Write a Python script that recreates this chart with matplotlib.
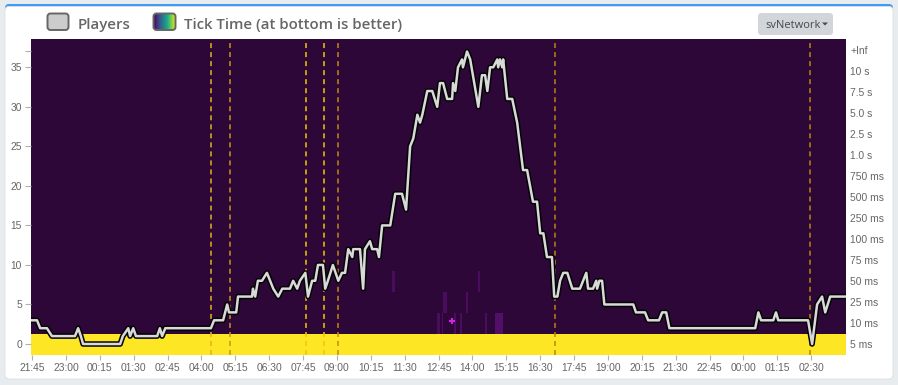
import matplotlib
matplotlib.use("Agg")
import matplotlib.pyplot as plt
import numpy as np
from matplotlib.patches import FancyBboxPatch, Polygon
from matplotlib.colors import ListedColormap, BoundaryNorm
import matplotlib.patheffects as pe

# ---------------- data ----------------
# minutes since 21:45 (first day)
player_minutes = [-3, 11, 18, 33, 44, 95, 102, 108, 113, 195, 201, 213, 217, 224, 230, 277, 283, 288,
                  295, 396, 403, 423, 432, 436, 452, 456, 487, 489, 494, 500, 509, 520, 527, 534, 545,
                  554, 571, 578, 587, 593, 605, 611, 620, 627, 633, 644, 649, 655, 666, 678, 686, 693,
                  700, 709, 711, 726, 733, 737, 748, 753, 764, 768, 775, 793, 804, 819, 828, 837, 844,
                  853, 859, 864, 875, 886, 897, 903, 910, 919, 930, 932, 937, 943, 952, 954, 963, 970,
                  976, 988, 996, 1003, 1008, 1014, 1021, 1030, 1032, 1036, 1041, 1043, 1052, 1063,
                  1074, 1087, 1096, 1109, 1118, 1125, 1132, 1140, 1151, 1156, 1163, 1169, 1176, 1185,
                  1196, 1213, 1227, 1231, 1242, 1249, 1251, 1256, 1262, 1267, 1331, 1337, 1357, 1364,
                  1388, 1395, 1404, 1411, 1601, 1608, 1614, 1641, 1647, 1652, 1718, 1727, 1738, 1749,
                  1756, 1767, 1802]
player_counts = [3, 3, 2, 2, 1, 1, 2, 1, 0, 0, 1, 2, 1, 2, 1, 1, 2, 1,
                 2, 2, 3, 3, 5, 4, 4, 6, 6, 7, 6, 8, 8, 9, 8, 7, 6,
                 7, 7, 8, 7, 8, 9, 6, 8, 8, 10, 10, 7, 8, 10, 8, 9, 9,
                 12, 11, 12, 12, 7, 12, 13, 12, 12, 11, 15, 15, 19, 19, 17, 25, 26,
                 29, 28, 29, 32, 32, 30, 33, 33, 31, 31, 33, 32, 35, 36, 35, 37, 36,
                 34, 30, 34, 34, 32, 35, 35, 36, 35, 36, 35, 36, 31, 31,
                 28, 22, 22, 18, 18, 14, 14, 11, 11, 6, 6, 8, 9, 9,
                 7, 7, 9, 7, 7, 8, 7, 8, 8, 5, 5, 4, 4, 3,
                 3, 4, 4, 2, 2, 4, 3, 3, 4, 3, 3, 0, 5, 6,
                 4, 6, 6]

x_tick_labels = ["21:45", "23:00", "00:15", "01:30", "02:45", "04:00", "05:15", "06:30",
                 "07:45", "09:00", "10:15", "11:30", "12:45", "14:00", "15:15", "16:30",
                 "17:45", "19:00", "20:15", "21:30", "22:45", "00:00", "01:15", "02:30"]

tick_time_buckets = ["5 ms", "10 ms", "25 ms", "50 ms", "75 ms", "100 ms", "250 ms", "500 ms",
                     "750 ms", "1.0 s", "2.5 s", "5.0 s", "7.5 s", "10 s", "+Inf"]

# highlighted heatmap cells: start minute, end minute, bucket row, level
cell_start = [797, 897, 907, 910, 935, 948, 961, 988, 1003, 1025]
cell_end = [804, 903, 910, 919, 939, 952, 965, 992, 1008, 1043]
cell_row = [3, 1, 1, 2, 1, 1, 2, 3, 1, 1]
cell_level = [1, 1, 1, 1, 1, 1, 1, 1, 1, 2]

event_minutes = [396, 438, 607, 647, 678, 1158, 1723]
event_colors = ["#e2b21c", "#c7961a", "#f2c800", "#f2c800", "#c28c10", "#b8860b", "#b8860b"]

marker_minute = [930]
marker_value = [2.95]

# ---------------- figure ----------------
W, H = 898, 385
plt.rcParams["lines.scale_dashes"] = False
fig = plt.figure(figsize=(W / 100, H / 100), dpi=100)
fig.patch.set_facecolor("#e9ecef")
T = fig.dpi_scale_trans


def box(x0, y0, x1, y1, r, z=2, **kw):
    p = FancyBboxPatch(((x0) / 100, (H - y1) / 100), (x1 - x0) / 100, (y1 - y0) / 100,
                       boxstyle="round,pad=0,rounding_size=%f" % (r / 100), transform=T,
                       zorder=z, **kw)
    fig.add_artist(p)
    return p


# card with blue top border
box(5, 4, 893, 379, 4, z=-10, fc="#3d9cf2", ec="none")
box(5, 6.5, 893, 379, 4, z=-9, fc="white", ec="#dde0e3", lw=0.6)

# legend
box(47.5, 13.5, 68.5, 30, 3, fc="#cccccc", ec="#666666", lw=1.4)
fig.text(78 / W, 1 - 29 / H, "Players", fontsize=10.8, color="#666666", weight="semibold",
         family="Open Sans", va="baseline", ha="left")
ax_sw = fig.add_axes([153.5 / W, 1 - 30 / H, 22 / W, 16.5 / H])
ax_sw.imshow(np.linspace(0, 1, 64)[None, :], aspect="auto", cmap="viridis", extent=[0, 1, 0, 1])
ax_sw.axis("off")
box(153.5, 13.5, 175.5, 30, 3, fc="none", ec="#666666", lw=1.4)
fig.text(184 / W, 1 - 29 / H, "Tick Time (at bottom is better)", fontsize=10.8, color="#666666",
         weight="semibold", family="Open Sans", va="baseline", ha="left")

# dropdown button
box(758, 13, 833, 35, 3.5, fc="#d2d5da", ec="none")
fig.text(765 / W, 1 - 28.5 / H, "svNetwork", fontsize=8.0, color="#454a50",
         family="Open Sans", va="baseline", ha="left")
fig.add_artist(Polygon([[822 / 100, (H - 22.5) / 100], [828 / 100, (H - 22.5) / 100],
                        [825 / 100, (H - 25.5) / 100]], closed=True, transform=T,
                       fc="#454a50", ec="none", zorder=3))

# ---------------- axes ----------------
L, R, TOP, BOT = 30.7, 846, 39, 355
ax = fig.add_axes([L / W, 1 - BOT / H, (R - L) / W, (BOT - TOP) / H])
ax2 = ax.twinx()
xmin, xmax = -3, 1802

# heatmap (tick time buckets)
edges = np.arange(xmin, xmax + 1)
Z = np.zeros((len(tick_time_buckets), len(edges) - 1))
Z[0, :] = 3
for s, e, r, lv in zip(cell_start, cell_end, cell_row, cell_level):
    Z[r, (edges[:-1] >= s) & (edges[:-1] < e)] = lv
cmap = ListedColormap(["#2c0738", "#4a0c5e", "#520f68", "#fde725"])
norm = BoundaryNorm([-0.5, 0.5, 1.5, 2.5, 3.5], 4)
ax.pcolormesh(edges, np.arange(len(tick_time_buckets) + 1), Z, cmap=cmap, norm=norm,
              shading="flat", antialiased=False, linewidth=0, zorder=1)

for m, c in zip(event_minutes, event_colors):
    ax.axvline(m, color=c, lw=1.1, dashes=(3.6, 2.9), zorder=3)

ax.set_xlim(xmin, xmax)
ax.set_ylim(0, len(tick_time_buckets))
ax.set_xticks(np.arange(0, 75 * len(x_tick_labels), 75))
ax.set_xticklabels(x_tick_labels)
ax.set_yticks(np.arange(len(tick_time_buckets)) + 0.5)
ax.set_yticklabels(tick_time_buckets)
ax.tick_params(axis="x", length=3.6, width=0.8, color="#b0b0b0", pad=2.5, labelsize=7.4,
               labelcolor="#666666")
for sp in ax.spines.values():
    sp.set_visible(False)

# players
ax2.set_ylim(-1.39, 38.58)
ax2.plot(player_minutes, player_counts, color="#d9d9d9", lw=1.8, zorder=5,
         path_effects=[pe.Stroke(linewidth=4.0, foreground="#050505"), pe.Normal()])
ax2.plot(marker_minute, marker_value, marker="+", ms=4.5, mew=1.5, color="#d81fe6",
         ls="none", zorder=6)
ax2.set_yticks([0, 5, 10, 15, 20, 25, 30, 35, 37])
ax2.set_yticklabels(["0", "5", "10", "15", "20", "25", "30", "35", ""])
ax2.set_xlim(xmin, xmax)
for sp in ax2.spines.values():
    sp.set_visible(False)

# put the bucket labels on the right, player counts on the left
ax.yaxis.set_ticks_position("right")
ax.tick_params(axis="y", length=0, pad=3, labelsize=7.4, labelcolor="#666666",
               left=False, labelleft=False, right=False, labelright=True)
ax2.yaxis.set_ticks_position("left")
ax2.tick_params(axis="y", left=True, labelleft=True, right=False, labelright=False,
                length=4.3, width=0.8, color="#b0b0b0", pad=2, labelsize=7.4,
                labelcolor="#666666")

for t in ax.get_xticklabels() + ax.get_yticklabels() + ax2.get_yticklabels():
    t.set_family("Liberation Sans")

fig.savefig("out.png", dpi=100, facecolor=fig.get_facecolor())
